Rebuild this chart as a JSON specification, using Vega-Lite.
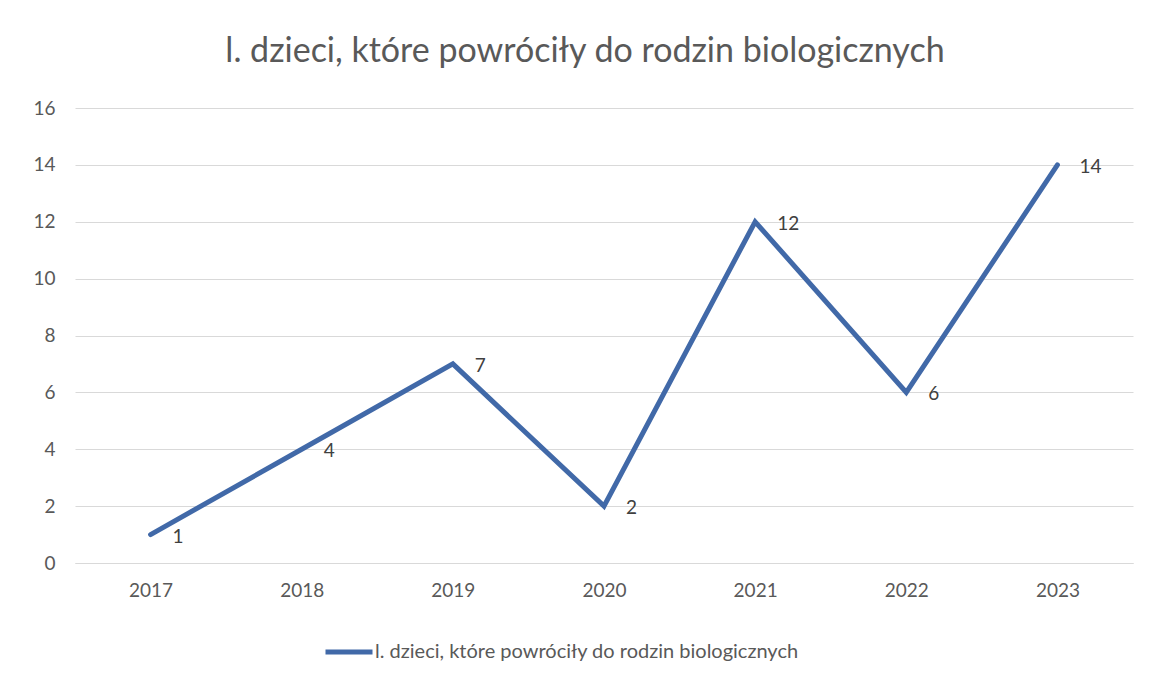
{
  "$schema": "https://vega.github.io/schema/vega-lite/v6.json",
  "width": 1058,
  "height": 455,
  "autosize": {"type": "none"},
  "padding": {"left": 75, "top": 108, "right": 17, "bottom": 119},
  "background": "white",
  "title": {
    "text": "l. dzieci, które powróciły do rodzin biologicznych",
    "font": "Lato",
    "fontSize": 34,
    "fontWeight": "normal",
    "color": "#595959",
    "anchor": "middle",
    "frame": "group",
    "baseline": "alphabetic",
    "offset": 3,
    "dx": -19
  },
  "data": {
    "values": [
      {"year": "2017", "value": 1, "series": "l. dzieci, które powróciły do rodzin biologicznych"},
      {"year": "2018", "value": 4, "series": "l. dzieci, które powróciły do rodzin biologicznych"},
      {"year": "2019", "value": 7, "series": "l. dzieci, które powróciły do rodzin biologicznych"},
      {"year": "2020", "value": 2, "series": "l. dzieci, które powróciły do rodzin biologicznych"},
      {"year": "2021", "value": 12, "series": "l. dzieci, które powróciły do rodzin biologicznych"},
      {"year": "2022", "value": 6, "series": "l. dzieci, które powróciły do rodzin biologicznych"},
      {"year": "2023", "value": 14, "series": "l. dzieci, które powróciły do rodzin biologicznych"}
    ]
  },
  "config": {
    "view": {"stroke": null},
    "font": "Lato"
  },
  "encoding": {
    "x": {
      "field": "year",
      "type": "ordinal",
      "scale": {"type": "point", "padding": 0.5},
      "axis": {
        "title": null,
        "labelAngle": 0,
        "labelFont": "Lato",
        "labelFontSize": 19,
        "labelColor": "#595959",
        "labelPadding": 18,
        "ticks": false,
        "domain": true,
        "domainColor": "#d9d9d9",
        "domainWidth": 1,
        "grid": false
      }
    },
    "y": {
      "field": "value",
      "type": "quantitative",
      "scale": {"domain": [0, 16], "nice": false},
      "axis": {
        "title": null,
        "values": [0, 2, 4, 6, 8, 10, 12, 14, 16],
        "labelFont": "Lato",
        "labelFontSize": 19,
        "labelColor": "#595959",
        "labelPadding": 20,
        "ticks": false,
        "domain": false,
        "grid": true,
        "gridColor": "#d9d9d9",
        "gridWidth": 1
      }
    }
  },
  "layer": [
    {
      "mark": {"type": "line", "strokeWidth": 5, "strokeCap": "round", "strokeJoin": "miter"},
      "encoding": {
        "color": {
          "field": "series",
          "type": "nominal",
          "scale": {"range": ["#4169a8"]},
          "legend": {
            "title": null,
            "orient": "none",
            "legendX": 248,
            "legendY": 518,
            "symbolType": "stroke",
            "symbolSize": 2209,
            "symbolStrokeWidth": 5,
            "labelFont": "Lato",
            "labelFontSize": 20,
            "labelColor": "#595959",
            "labelOffset": 0,
            "labelLimit": 0
          }
        }
      }
    },
    {
      "mark": {"type": "text", "align": "left", "baseline": "middle", "dx": 22, "dy": 2, "fontSize": 19, "font": "Lato", "color": "#404040"},
      "encoding": {"text": {"field": "value", "type": "quantitative"}}
    }
  ]
}
